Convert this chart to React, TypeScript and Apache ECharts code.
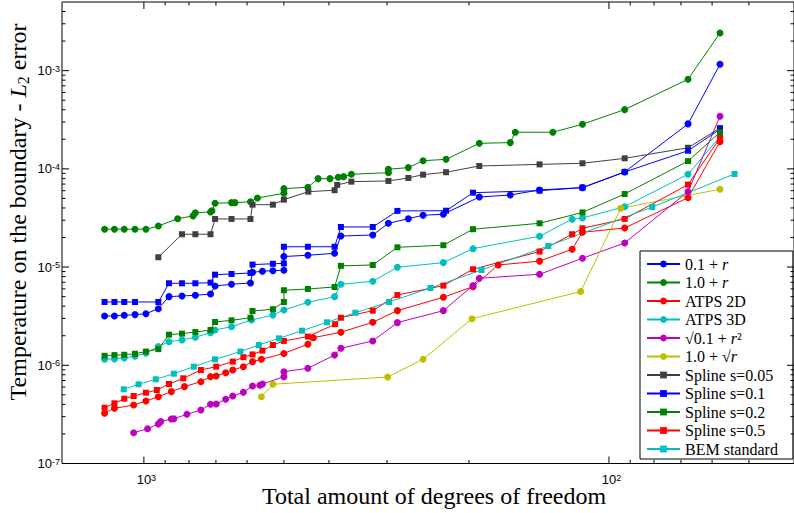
import React, { useEffect, useRef } from 'react';
import * as echarts from 'echarts';

// ---- tick values ----
const xMajorTicks = [100, 1000];
const xMinorTicks = [50, 60, 70, 80, 90, 200, 300, 400, 500, 600, 700, 800, 900];
const yMajorTicks = [1e-7, 1e-6, 1e-5, 1e-4, 1e-3];
const yMinorTicks = [
  2e-7, 3e-7, 4e-7, 5e-7, 6e-7, 7e-7, 8e-7, 9e-7,
  2e-6, 3e-6, 4e-6, 5e-6, 6e-6, 7e-6, 8e-6, 9e-6,
  2e-5, 3e-5, 4e-5, 5e-5, 6e-5, 7e-5, 8e-5, 9e-5,
  2e-4, 3e-4, 4e-4, 5e-4, 6e-4, 7e-4, 8e-4, 9e-4,
  2e-3, 3e-3, 4e-3,
];

// ---- series data: [degrees of freedom, error] ----
const r01 = [
  [1215, 3.18e-6], [1157, 3.18e-6], [1102, 3.23e-6], [1045, 3.28e-6], [990, 3.35e-6], [931, 3.77e-6],
  [883, 5.0e-6], [828, 5.08e-6], [775, 5.16e-6], [719, 5.32e-6], [703, 6.42e-6], [648, 6.68e-6],
  [590, 6.89e-6], [584, 8.85e-6], [556, 9.06e-6], [528, 9.19e-6], [500, 9.28e-6], [500, 1.28e-5],
  [444, 1.32e-5], [389, 1.38e-5], [377, 2.07e-5], [322, 2.12e-5], [298, 2.79e-5], [270, 3.11e-5],
  [251, 3.37e-5], [227, 3.45e-5], [190, 5.17e-5], [163, 5.42e-5], [141, 6.1e-5], [114, 6.44e-5],
  [92.5, 9.3e-5], [67.6, 2.87e-4], [57.7, 1.16e-3],
];
const r10 = [
  [1215, 2.43e-5], [1157, 2.43e-5], [1102, 2.43e-5], [1045, 2.43e-5], [990, 2.43e-5], [931, 2.62e-5],
  [846, 3.11e-5], [784, 3.32e-5], [775, 3.58e-5], [719, 3.64e-5], [714, 3.75e-5], [703, 4.46e-5],
  [648, 4.53e-5], [637, 4.53e-5], [590, 4.63e-5], [570, 5.05e-5], [500, 5.64e-5], [500, 6.29e-5],
  [444, 6.5e-5], [422, 7.95e-5], [398, 7.95e-5], [382, 8.21e-5], [372, 8.33e-5], [358, 8.81e-5],
  [298, 9.15e-5], [298, 9.91e-5], [270, 1.03e-4], [251, 1.21e-4], [224, 1.25e-4], [190, 1.82e-4],
  [163, 1.85e-4], [159, 2.36e-4], [132, 2.36e-4], [114, 2.85e-4], [92.5, 4.01e-4], [67.6, 8.17e-4],
  [57.7, 2.42e-3],
];
const atps2d = [
  [1215, 3.25e-7], [1157, 3.65e-7], [1052, 3.94e-7], [990, 4.33e-7], [931, 4.79e-7], [873, 5.39e-7],
  [818, 6.06e-7], [754, 6.81e-7], [719, 7.66e-7], [699, 7.78e-7], [667, 8.41e-7], [644, 8.96e-7],
  [611, 9.68e-7], [584, 1.09e-6], [559, 1.15e-6], [500, 1.32e-6], [444, 1.64e-6], [432, 1.91e-6],
  [377, 2.17e-6], [322, 2.74e-6], [285, 3.6e-6], [227, 4.93e-6], [196, 6.32e-6], [173, 1.05e-5],
  [141, 1.15e-5], [120, 1.52e-5], [114, 2.26e-5], [92.5, 2.5e-5], [67.6, 5.09e-5], [57.7, 1.89e-4],
];
const atps3d = [
  [1215, 1.15e-6], [1157, 1.16e-6], [1102, 1.19e-6], [1045, 1.24e-6], [990, 1.33e-6], [931, 1.55e-6],
  [883, 1.74e-6], [828, 1.81e-6], [775, 1.93e-6], [719, 2.15e-6], [703, 2.29e-6], [648, 2.47e-6],
  [587, 2.89e-6], [528, 3.25e-6], [500, 3.66e-6], [444, 4.38e-6], [389, 5.0e-6], [377, 6.68e-6],
  [322, 7.17e-6], [285, 9.95e-6], [227, 1.11e-5], [196, 1.54e-5], [141, 2.06e-5], [120, 3.07e-5],
  [114, 3.16e-5], [92.5, 4.12e-5], [67.6, 8.81e-5], [57.7, 2.13e-4],
];
const sqrtR2 = [
  [1052, 2.06e-7], [982, 2.26e-7], [931, 2.53e-7], [920, 2.67e-7], [873, 2.84e-7], [862, 2.86e-7],
  [808, 3.17e-7], [754, 3.51e-7], [719, 4.01e-7], [699, 4.04e-7], [667, 4.51e-7], [644, 4.87e-7],
  [611, 5.31e-7], [584, 6.16e-7], [563, 6.26e-7], [556, 6.45e-7], [500, 7.66e-7], [500, 8.61e-7],
  [444, 9.32e-7], [389, 1.27e-6], [377, 1.49e-6], [322, 1.77e-6], [285, 2.72e-6], [227, 3.6e-6],
  [196, 6.5e-6], [190, 7.69e-6], [141, 8.45e-6], [114, 1.23e-5], [92.5, 1.76e-5], [67.6, 5.86e-5],
  [57.7, 3.43e-4],
];
const sqrtR = [
  [559, 4.79e-7], [528, 6.41e-7], [299, 7.6e-7], [251, 1.15e-6], [197, 2.98e-6], [115, 5.64e-6],
  [94.3, 3.97e-5], [57.7, 6.2e-5],
];
const spline005 = [
  [931, 1.26e-5], [828, 2.16e-5], [775, 2.16e-5], [719, 2.16e-5], [703, 3.09e-5], [648, 3.09e-5],
  [590, 3.09e-5], [584, 4.32e-5], [528, 4.32e-5], [500, 4.86e-5], [443, 5.86e-5], [389, 6.06e-5],
  [384, 6.86e-5], [358, 7.41e-5], [298, 7.53e-5], [270, 8.08e-5], [251, 8.73e-5], [224, 9.24e-5],
  [190, 1.07e-4], [141, 1.11e-4], [114, 1.14e-4], [92.5, 1.28e-4], [67.6, 1.64e-4], [57.7, 2.61e-4],
];
const spline01 = [
  [1215, 4.41e-6], [1157, 4.41e-6], [1102, 4.41e-6], [1045, 4.41e-6], [931, 4.41e-6], [883, 6.84e-6],
  [828, 6.84e-6], [775, 6.84e-6], [719, 6.94e-6], [703, 8.37e-6], [648, 8.51e-6], [590, 8.71e-6],
  [584, 1.06e-5], [528, 1.08e-5], [500, 1.09e-5], [500, 1.61e-5], [444, 1.61e-5], [389, 1.61e-5],
  [377, 2.56e-5], [322, 2.56e-5], [285, 3.73e-5], [224, 3.75e-5], [196, 5.72e-5], [141, 6.0e-5],
  [114, 6.44e-5], [92.5, 9.3e-5], [67.6, 1.53e-4], [57.7, 2.53e-4],
];
const spline02 = [
  [1215, 1.25e-6], [1157, 1.27e-6], [1102, 1.28e-6], [1045, 1.31e-6], [990, 1.38e-6], [931, 1.46e-6],
  [883, 2.05e-6], [828, 2.1e-6], [775, 2.18e-6], [719, 2.29e-6], [703, 2.76e-6], [648, 2.87e-6],
  [590, 3.05e-6], [584, 3.57e-6], [528, 3.72e-6], [500, 4.41e-6], [500, 5.81e-6], [444, 5.98e-6],
  [389, 6.27e-6], [377, 1.03e-5], [322, 1.05e-5], [285, 1.59e-5], [227, 1.67e-5], [196, 2.43e-5],
  [141, 2.79e-5], [114, 3.6e-5], [92.5, 5.55e-5], [67.6, 1.2e-4], [57.7, 2.36e-4],
];
const spline05 = [
  [1215, 3.7e-7], [1157, 4.1e-7], [1102, 4.57e-7], [1052, 4.87e-7], [990, 5.26e-7], [938, 5.6e-7],
  [883, 6.45e-7], [823, 7.37e-7], [754, 8.96e-7], [699, 9.68e-7], [644, 1.09e-6], [611, 1.21e-6],
  [584, 1.29e-6], [556, 1.41e-6], [528, 1.61e-6], [500, 1.77e-6], [444, 1.96e-6], [388, 2.62e-6],
  [377, 3.05e-6], [322, 3.6e-6], [285, 5.2e-6], [227, 6.47e-6], [196, 9.5e-6], [141, 1.44e-5],
  [120, 2.16e-5], [114, 2.48e-5], [92.5, 3.09e-5], [67.6, 6.91e-5], [57.7, 2.06e-4],
];
const bem = [
  [1105, 5.7e-7], [1027, 6.41e-7], [943, 7.2e-7], [862, 8.21e-7], [781, 9.68e-7], [703, 1.15e-6],
  [620, 1.38e-6], [566, 1.61e-6], [512, 1.88e-6], [457, 2.25e-6], [404, 2.74e-6], [351, 3.43e-6],
  [297, 4.41e-6], [242, 6.13e-6], [188, 9.34e-6], [135, 1.64e-5], [80.7, 4.09e-5], [53.7, 8.87e-5],
];

const seriesNames = [
  '0.1 + r', '1.0 + r', 'ATPS 2D', 'ATPS 3D', 'sqrt(0.1 + r^2)', '1.0 + sqrt(r)',
  'Spline s=0.05', 'Spline s=0.1', 'Spline s=0.2', 'Spline s=0.5', 'BEM standard',
];
const seriesData = [r01, r10, atps2d, atps3d, sqrtR2, sqrtR, spline005, spline01, spline02, spline05, bem];
const seriesColors = ['#0000ff', '#008000', '#ff0000', '#00bfbf', '#bf00bf', '#bfbf00', '#404040', '#0000ff', '#008000', '#ff0000', '#00bfbf'];
const seriesSymbols = ['circle', 'circle', 'circle', 'circle', 'circle', 'circle', 'rect', 'rect', 'rect', 'rect', 'rect'];
const legendLabels: Record<string, string> = {
  '0.1 + r': '0.1 + {i|r}',
  '1.0 + r': '1.0 + {i|r}',
  'ATPS 2D': 'ATPS 2D',
  'ATPS 3D': 'ATPS 3D',
  'sqrt(0.1 + r^2)': '√0.1 + {i|r}²',
  '1.0 + sqrt(r)': '1.0 + √{i|r}',
  'Spline s=0.05': 'Spline s=0.05',
  'Spline s=0.1': 'Spline s=0.1',
  'Spline s=0.2': 'Spline s=0.2',
  'Spline s=0.5': 'Spline s=0.5',
  'BEM standard': 'BEM standard',
};

const SERIF = 'Liberation Serif';
const SANS = 'Liberation Sans';

export default function App() {
  const ref = useRef<HTMLDivElement>(null);
  useEffect(() => {
    if (!ref.current) return;
    const chart = echarts.init(ref.current, undefined, { renderer: 'svg' });

    const tickData: number[][] = [
      ...xMajorTicks.map((v) => [v, 1e-5, 0, 7]),
      ...xMinorTicks.map((v) => [v, 1e-5, 0, 3.5]),
      ...yMajorTicks.map((v) => [1000, v, 1, 7]),
      ...yMinorTicks.map((v) => [1000, v, 1, 3.5]),
    ];

    const lineSeries = seriesNames.map((name, i) => ({
      name,
      type: 'line',
      data: seriesData[i],
      symbol: seriesSymbols[i],
      symbolSize: seriesSymbols[i] === 'circle' ? 7 : 6,
      showSymbol: true,
      lineStyle: { width: 1, color: seriesColors[i] },
      itemStyle: { color: seriesColors[i], borderWidth: 0 },
      emphasis: { disabled: true },
      z: 2,
    }));

    const supRich = {
      p: { width: 5 },
      b: { fontFamily: SANS, fontSize: 13, lineHeight: 13, color: '#000' },
      s: { fontFamily: SANS, fontSize: 9, lineHeight: 3, verticalAlign: 'top', color: '#000' },
    };

    const option: any = {
      animation: false,
      backgroundColor: '#fff',
      grid: {
        left: 62, right: -8, top: 2, bottom: 49.5,
        show: true, borderColor: '#000', borderWidth: 1, backgroundColor: 'transparent',
      },
      xAxis: {
        type: 'log', logBase: 10, min: 40, max: 1500, inverse: true,
        axisLine: { show: false }, axisTick: { show: false }, splitLine: { show: false },
        axisLabel: {
          showMinLabel: false, showMaxLabel: false, margin: 9.5,
          formatter: (v: number) => `{p|}{b|10}{s|${Math.round(Math.log10(v))}}`,
          rich: supRich,
        },
      },
      yAxis: {
        type: 'log', logBase: 10, min: 1e-7, max: 5e-3,
        axisLine: { show: false }, axisTick: { show: false }, splitLine: { show: false },
        axisLabel: {
          showMaxLabel: false, margin: 2,
          formatter: (v: number) => `{b|10}{s|${Math.round(Math.log10(v))}}`,
          rich: supRich,
        },
      },
      legend: {
        data: seriesNames,
        orient: 'vertical',
        left: 640, top: 251,
        itemWidth: 33, itemHeight: 8.5, itemGap: 2.5,
        padding: [5, 15, 2, 6],
        backgroundColor: '#fff', borderColor: '#000', borderWidth: 1, borderRadius: 0,
        selectedMode: false,
        formatter: (name: string) => legendLabels[name] ?? name,
        textStyle: {
          fontFamily: SERIF, fontSize: 16, lineHeight: 16, color: '#000',
          rich: {
            i: { fontFamily: SERIF, fontSize: 16, lineHeight: 16, fontStyle: 'italic', color: '#000' },
          },
        },
      },
      graphic: [
        {
          type: 'text', x: 18, y: 212, rotation: Math.PI / 2, silent: true,
          style: {
            text: 'Temperature on the boundary - {i|L}{sub|2} error',
            fontFamily: SERIF, fontSize: 24, lineHeight: 26, fill: '#000',
            align: 'center', verticalAlign: 'middle',
            rich: {
              i: { fontFamily: SERIF, fontSize: 24, lineHeight: 26, fontStyle: 'italic', fill: '#000' },
              sub: { fontFamily: SERIF, fontSize: 16, lineHeight: 14, verticalAlign: 'bottom', fill: '#000' },
            },
          },
        },
        {
          type: 'text', x: 434, y: 495.5, silent: true,
          style: {
            text: 'Total amount of degrees of freedom',
            fontFamily: SERIF, fontSize: 24, lineHeight: 18, fill: '#000',
            align: 'center', verticalAlign: 'middle',
          },
        },
      ],
      series: [
        ...lineSeries,
        {
          name: 'ticks',
          type: 'custom',
          silent: true,
          z: 5,
          clip: false,
          data: tickData,
          renderItem: (params: any, api: any) => {
            const cs = params.coordSys;
            const kind = api.value(2);
            const len = api.value(3);
            const st = { stroke: '#000', lineWidth: 1 };
            if (kind === 0) {
              const px = api.coord([api.value(0), 1e-5])[0];
              return {
                type: 'group',
                children: [
                  { type: 'line', shape: { x1: px, y1: cs.y + cs.height, x2: px, y2: cs.y + cs.height - len }, style: st },
                  { type: 'line', shape: { x1: px, y1: cs.y, x2: px, y2: cs.y + len }, style: st },
                ],
              };
            }
            const py = api.coord([1000, api.value(1)])[1];
            return {
              type: 'group',
              children: [
                { type: 'line', shape: { x1: cs.x, y1: py, x2: cs.x + len, y2: py }, style: st },
                { type: 'line', shape: { x1: cs.x + cs.width, y1: py, x2: cs.x + cs.width - len, y2: py }, style: st },
              ],
            };
          },
        },
      ],
    };
    chart.setOption(option);
    return () => chart.dispose();
  }, []);
  return (
    <div
      ref={ref}
      style={{ position: 'absolute', left: 0, top: 0, width: 794, height: 513 }}
    />
  );
}
